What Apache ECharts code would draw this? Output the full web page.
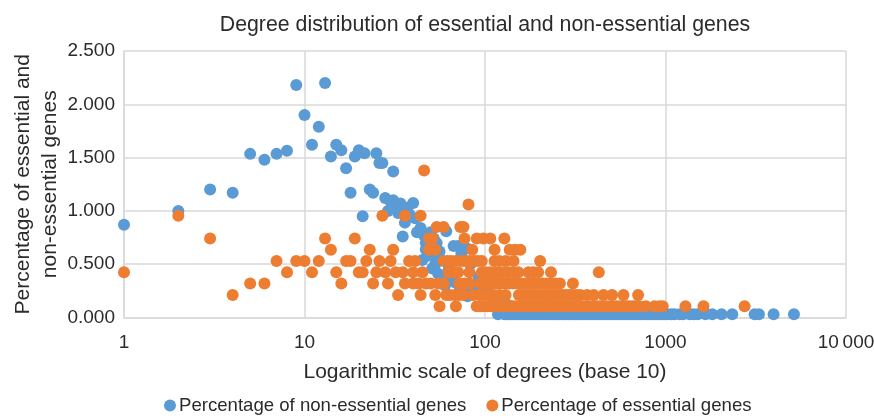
<!DOCTYPE html>
<html><head><meta charset="utf-8">
<style>html,body{margin:0;padding:0;background:#fff}#c{width:874px;height:416px}</style>
<script src="https://cdn.jsdelivr.net/npm/echarts@6/dist/echarts.min.js"></script>
</head><body><div id="c"></div>
<script>
const title = "Degree distribution of essential and non-essential genes";
const xName = "Logarithmic scale of degrees (base 10)";
const yName = "Percentage of essential and\nnon-essential genes";
const seriesNames = ["Percentage of non-essential genes", "Percentage of essential genes"];
const yStepLabels = ["0.000","0.500","1.000","1.500","2.000","2.500"];

// non-essential: scattered head of the distribution
const blueHead = [[1,.87],[2,1.0],[3,1.2],[4,1.17],[5,1.535],[6,1.48],[7,1.535],[8,1.565],[9,2.18],[10,1.9],[11,1.62],[12,1.79],[13,2.2],[14,1.51],[15,1.62],[16,1.57],[17,1.4],[18,1.17],[19,1.51],[20,1.57],[21,.95],[21.5,1.54],[23,1.2],[24,1.17],[25,1.54],[26,1.45],[27,1.45],[28,1.12],[29,1.0],[30,1.09],[31,1.37],[31,1.1],[32,1.06],[33,.98],[34,1.07],[35,1.0],[36,.89],[35,.76],[37,1.03],[38,.97],[40,1.075],[41,.93],[42,.8],[44,.84],[46,.77],[47,.64],[47,.7],[49,.62],[45,.54],[48,.58],[50,.8],[52,.74],[54,.7],[54,.55],[56,.62],[51,.46],[53,.5],[55,.41],[58,.37],[60,.3],[61,.81],[63,.45],[66,.35],[67,.67],[71,.67],[68,.33],[72,.3],[74,.6],[75,.68],[76,.22],[79,.65],[79,.25],[80,.2],[83,.5],[88,.3],[92,.38],[97,.22],[103,.28],[110,.18],[118,.03],[125,.16],[133,.12],[140,.09]];
// non-essential: dense tail along the bottom row
const blueTailX = [128,132,136,140,144,148,152,156,160,165,170,175,180,186,192,198,204,210,216,222,229,236,243,250,258,266,274,282,290,299,308,317,327,337,347,357,368,379,390,402,414,426,439,452,466,480,494,509,524,540,556,573,590,608,626,645,659,680,702,725,748,775,800,825,851,880,905,930,960,990,1020,1075,1120,1196,1250,1359,1430,1510,1667,1815,2044,2344,3116,3293,3970,5148];
const blueTailY = 0.03;

// essential: rows of equal percentage
const rowValues = [.106,.212,.318,.424,.53,.636,.742,.848,.954,1.06,1.378];
const row1 = [56,69,90,94,98,103,108,113,118,124,130,136,142,148,155,162,169,176,184,192,200,209,218,228,238,248,259,270,282,294,307,320,334,349,364,380,397,414,432,451,470,491,512,535,558,582,608,634,662,690,717,780,870,925,965,1290,1624,2743];
const row2 = [4,33,44,53,61,64,68,72,76,86,94,100,106,112,120,130,154,160,167,174,182,190,198,207,216,225,235,245,256,267,279,291,304,320,337,368,400,453,506,585,705];
const row3 = [5,6,16,24,29,36,40,43,47,50,55,59,72,77,82,94,99,104,110,116,122,129,136,143,151,159,168,177,186,196,207,218,230,245,260,307];
const row4 = [1,8,11,15,20,21,25,28,32,35,40,45,63,67,71,82,96,101,107,113,120,127,135,144,153,174,185,197,232,427];
const row5 = [7,9,10,12,17,18,22,26,30,38,41,59,62,65,69,74,78,82,87,91,96,113,120,130,144,202];
const row6 = [14,23,31,49,53,85,113,137,147,157];
const row7 = [3,13,19,49,51,77,90,98,107,128];
const row8 = [54,59,73,76];
const row9 = [2,27,36,44];
const row10 = [81];
const row11 = [46];

const blueData = blueHead.concat(blueTailX.map(x => [x, blueTailY]));
const orangeRows = [row1,row2,row3,row4,row5,row6,row7,row8,row9,row10,row11];
const orangeData = [];
orangeRows.forEach((r,i) => r.forEach(x => orangeData.push([x, rowValues[i]])));

const txt = "#2b2b2b", font = "'Liberation Sans'", line = "#d9d9d9";
const chart = echarts.init(document.getElementById('c'), null, {renderer:'canvas'});
chart.setOption({
  animation:false,
  textStyle:{fontFamily:font},
  title:{text:title,left:480,top:10,textAlign:'center',textStyle:{fontFamily:font,fontSize:21.3,fontWeight:'normal',color:txt}},
  grid:{left:124,right:28,top:51,bottom:98.5,containLabel:false,outerBoundsMode:'none'},
  legend:{top:391,left:159,itemGap:20,itemWidth:12,itemHeight:12,icon:'circle',
    textStyle:{fontFamily:font,fontSize:18.6,color:txt,padding:[0,0,0,-2]},data:seriesNames},
  xAxis:{type:'log',logBase:10,min:1,max:10000,name:xName,nameLocation:'middle',nameGap:44,nameMoveOverlap:false,
    nameTextStyle:{fontFamily:font,fontSize:21,color:txt},
    axisLine:{show:true,onZero:false,lineStyle:{color:line,width:1.5}},axisTick:{show:false},minorTick:{show:false},
    splitLine:{show:true,lineStyle:{color:line,width:1.5}},
    axisLabel:{fontFamily:font,fontSize:19,color:txt,margin:16,showMinLabel:true,showMaxLabel:true,
      formatter:v=>{v=Math.round(v);return v>=10000?"10\u2009000":String(v);}}},
  yAxis:{type:'value',min:0,max:2.5,interval:.5,name:yName,nameLocation:'middle',nameGap:60,nameMoveOverlap:false,nameRotate:90,
    nameTextStyle:{fontFamily:font,fontSize:21,color:txt,lineHeight:27},
    axisLine:{show:true,lineStyle:{color:line,width:1.5}},axisTick:{show:false},
    splitLine:{show:true,lineStyle:{color:line,width:1.5}},
    axisLabel:{fontFamily:font,fontSize:19,color:txt,margin:9,formatter:v=>yStepLabels[Math.round(v/.5)]}},
  series:[
    {name:seriesNames[0],type:'scatter',data:blueData,symbol:'circle',symbolSize:12,clip:false,itemStyle:{color:'#5b9bd5',opacity:1}},
    {name:seriesNames[1],type:'scatter',data:orangeData,symbol:'circle',symbolSize:12,clip:false,itemStyle:{color:'#ed7d31',opacity:1}}
  ]
});
</script></body></html>
